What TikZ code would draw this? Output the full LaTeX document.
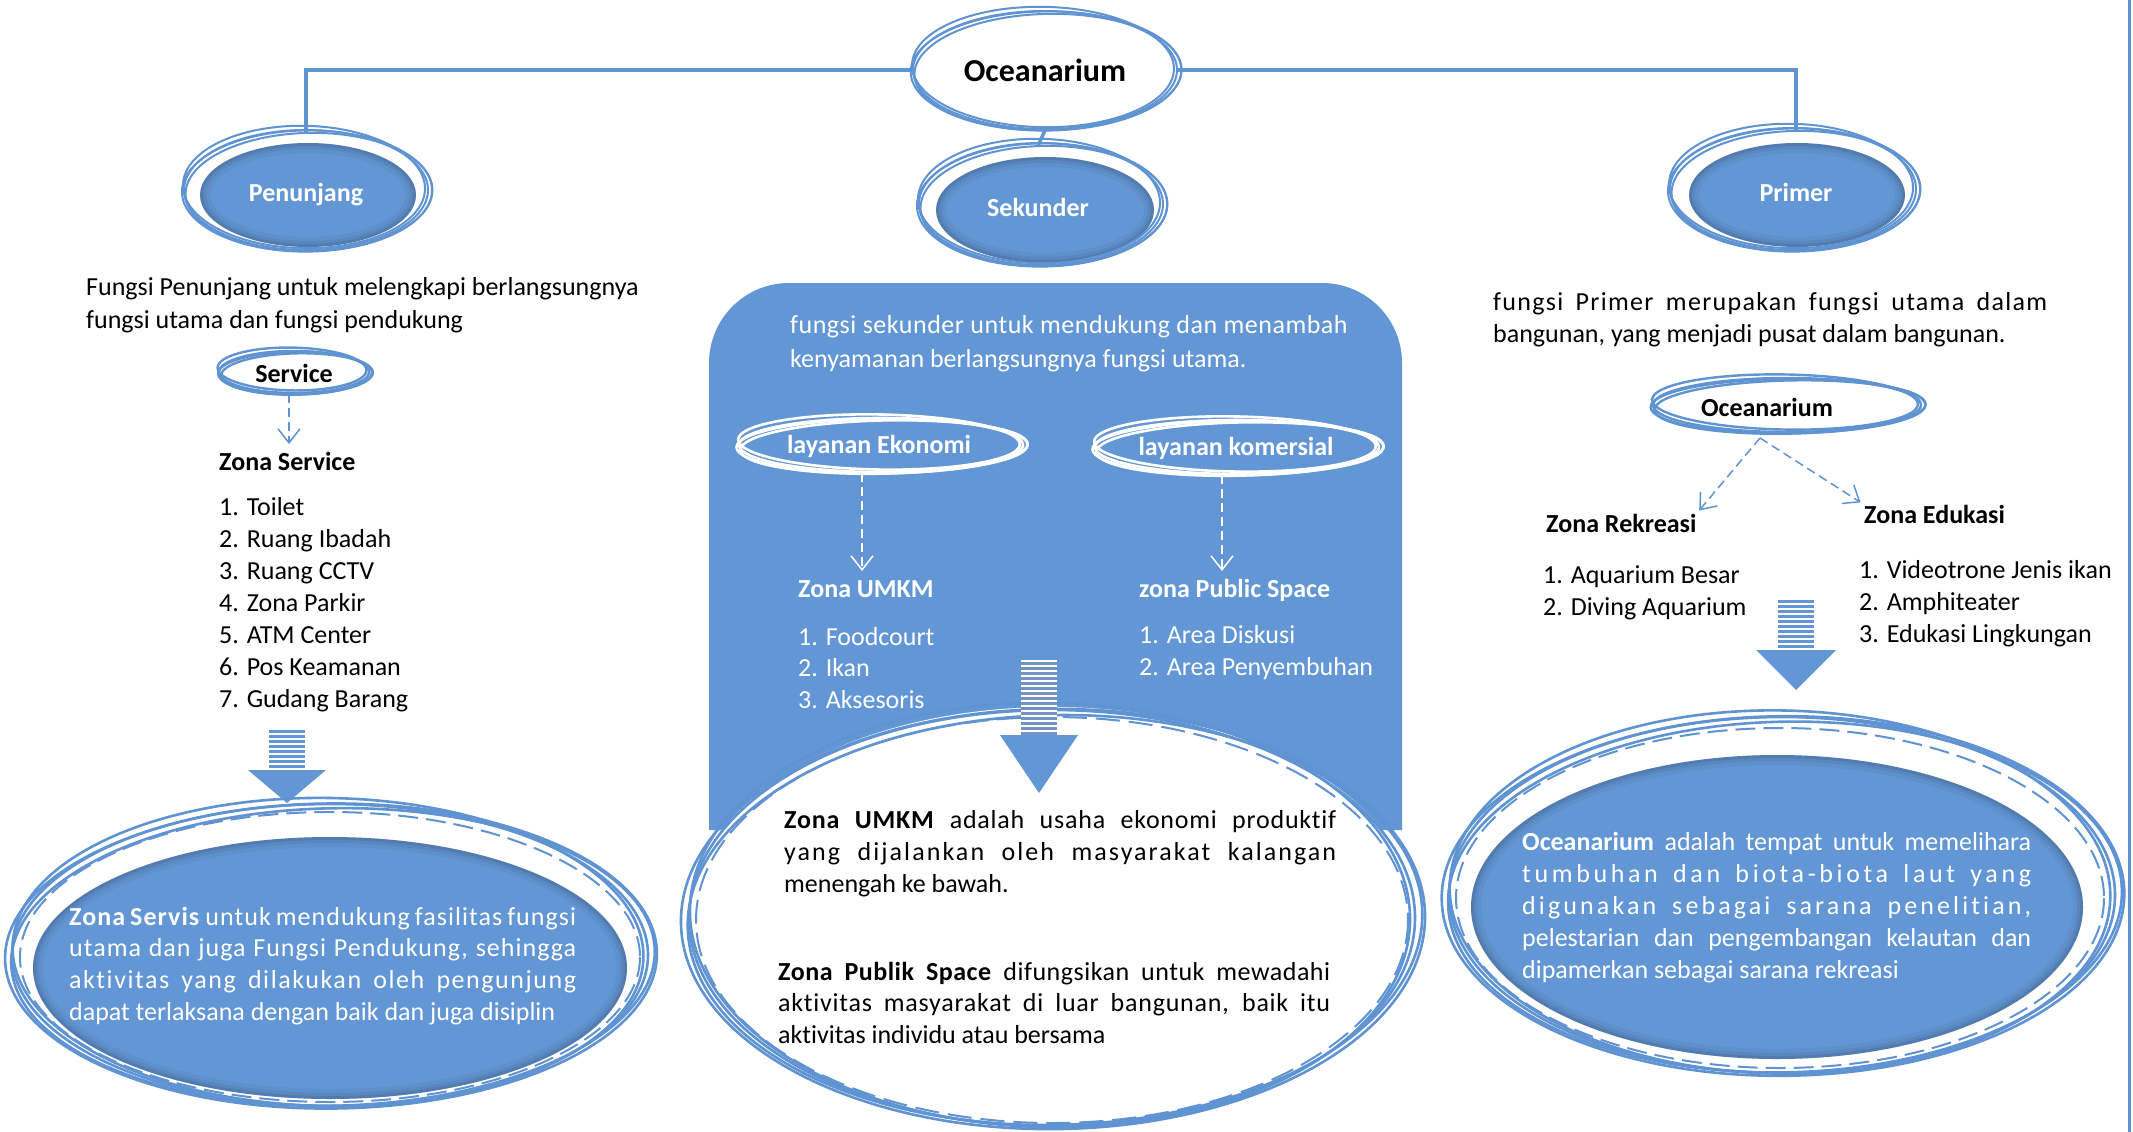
\documentclass[tikz,border=0pt]{standalone}
\usepackage{fontspec}
\setmainfont{Carlito}[Ligatures=CommonOff]
\usetikzlibrary{shapes.geometric,arrows.meta}

\definecolor{oc}{HTML}{6396D4}
\definecolor{ocline}{HTML}{5F93D1}
\definecolor{ocstripe}{HTML}{7393C4}

\newcommand\bodyfont{\fontsize{26}{32}\selectfont}
% stacked lines, first baseline is the box baseline
\newcommand\txtlines[2][32pt]{\vtop{\baselineskip=#1\lineskiplimit=-100pt\lineskip=0pt #2}}
\newcommand\tline[1]{\hbox{#1}}
% a line set to a fixed width, optional letter spacing
\newcommand\jline[3][0]{\hbox to #2{\addfontfeatures{LetterSpace=#1}#3}}

% hand-drawn looking ring: centre, x radius, y radius, style
\newcommand\skring[4]{%
  \foreach \dx/\dy/\sx/\sy/\rr in {0/0/1/1/0, 3/-2/1.012/0.985/1.2, -2/3/0.992/1.02/-1, 1/-1/1.025/1.01/0.5}{%
    \draw[#4, shift={(#1)}, xshift=\dx pt, yshift=\dy pt, rotate=\rr] (0,0) ellipse [x radius=\sx*#2, y radius=\sy*#3];}}

% soft shaded rim inside a filled disc: centre, x radius, y radius
\newcommand\softrim[3]{%
  \foreach \w/\o in {10/0.04, 6/0.06, 3/0.08}{%
    \draw[black, opacity=\o, line width=\w pt] (#1) ellipse [x radius=#2-\w/2, y radius=#3-\w/2];}}

% striped block arrow: x centre, shaft top, shaft end, tip, half shaft, half head, stripe colour
\newcommand\blockarrow[7]{%
  \fill[white] (#1-#5,#2) rectangle (#1+#5,#3);
  \pgfmathsetmacro\nst{int((#3-#2)/5)-1}
  \foreach \i in {0,...,\nst} \fill[#7] (#1-#5,#2+5*\i+1.5) rectangle (#1+#5,#2+5*\i+5);
  \fill[oc] (#1-#6,#3) -- (#1+#6,#3) -- (#1,#4) -- cycle;}

\tikzset{
  txt/.style={inner sep=0pt, font=\bodyfont, anchor=base west},
  btxt/.style={txt, font=\bodyfont\bfseries},
  conn/.style={draw=ocline, line width=3.5pt},
  ring/.style={draw=ocline, line width=2pt},
  wring/.style={draw=white, line width=2.6pt},
  dasharrow/.style={draw=ocline, line width=1.5pt, dash pattern=on 9pt off 5pt,
    -{Straight Barb[length=14pt,width=22pt]}, shorten >=4pt},
  wdasharrow/.style={dasharrow, draw=white},
  bubble/.style={ellipse, inner sep=0pt, font=\bodyfont\bfseries},
}

\begin{document}
\begin{tikzpicture}[x=1pt,y=-1pt]
\useasboundingbox (0,0) rectangle (2133,1132);
\fill[white] (0,0) rectangle (2133,1132);

% right page rule
\draw[ocline, line width=3pt] (2129,0) -- (2129,1132);

% ---------- top level ----------
\node[bubble, minimum width=265pt, minimum height=120pt, font=\fontsize{32}{38}\selectfont\bfseries] (ocean) at (1045,70) {Oceanarium};
\skring{1045,70}{132}{59}{ring}

\fill[oc] (308,195) ellipse [x radius=108, y radius=52];
\softrim{308,195}{108}{52}
\skring{306,190}{122}{60}{ring}
\node[bubble, text=white, minimum width=246pt, minimum height=122pt] (pen) at (306,195) {Penunjang};

\fill[oc] (1045,210) ellipse [x radius=109, y radius=53];
\softrim{1045,210}{109}{53}
\skring{1041,204}{122}{61}{ring}
\node[bubble, text=white, minimum width=244pt, minimum height=122pt] (sek) at (1038,207) {Sekunder};

\fill[oc] (1797,195) ellipse [x radius=108, y radius=52];
\softrim{1797,195}{108}{52}
\skring{1793,189}{123}{61}{ring}
\node[bubble, text=white, minimum width=246pt, minimum height=122pt] (prim) at (1796,192) {Primer};

\draw[conn] (ocean.west) -| (pen.north);
\draw[conn] (ocean.east) -| (prim.north);
\draw[conn] (ocean.south) -- (sek.north);

% ---------- Penunjang column ----------
\node[txt] (pentext) at (86,295) {\txtlines[33pt]{\tline{Fungsi Penunjang untuk melengkapi berlangsungnya}\tline{fungsi utama dan fungsi pendukung}}};

\skring{294,372}{75}{21}{ring, line width=2.4pt}
\node[bubble, minimum width=150pt, minimum height=42pt] (svc) at (294,373) {Service};

\node[btxt] (zsvc) at (219,470) {Zona Service};
\draw[dasharrow] (svc.south -| 289,0) -- (289,448);

\node[txt] (svlist) at (219,515) {\txtlines[32pt]{\tline{1. Toilet}\tline{2. Ruang Ibadah}\tline{3. Ruang CCTV}\tline{4. Zona Parkir}\tline{5. ATM Center}\tline{6. Pos Keamanan}\tline{7. Gudang Barang}}};

\blockarrow{287}{728}{770}{803}{18}{39}{oc}

\fill[oc] (330,968) ellipse [x radius=297, y radius=131];
\softrim{330,968}{297}{131}
\skring{330,955}{318}{151}{ring, line width=2.6pt}
\draw[ocline, line width=2pt, dash pattern=on 20pt off 8pt] (330,957) ellipse [x radius=310, y radius=145];

\node[txt, text=white] (servis) at (69,925) {\txtlines[31.7pt]{%
  \jline[4]{507pt}{\textbf{Zona Servis} untuk mendukung fasilitas fungsi}%
  \jline[4]{507pt}{utama dan juga Fungsi Pendukung, sehingga}%
  \jline[6]{507pt}{aktivitas yang dilakukan oleh pengunjung}%
  \tline{dapat terlaksana dengan baik dan juga disiplin}}};

% ---------- Sekunder column ----------
\fill[oc] (709,830) [rounded corners=80pt] -- (709,283) -- (1402,283) [sharp corners] -- (1402,830) -- cycle;

\node[txt, text=white] (sektext) at (790,333) {\txtlines[34pt]{\tline{\addfontfeatures{LetterSpace=2}fungsi sekunder untuk mendukung dan menambah}\tline{kenyamanan berlangsungnya fungsi utama.}}};

\skring{881,445}{142}{27}{wring}
\node[bubble, text=white, minimum width=284pt, minimum height=54pt] (ek) at (879,446) {layanan Ekonomi};
\skring{1237,447}{142}{27}{wring}
\node[bubble, text=white, minimum width=284pt, minimum height=54pt] (kom) at (1236,448) {layanan komersial};

\node[btxt, text=white] (zumkm) at (798,597) {Zona UMKM};
\node[btxt, text=white] (zps) at (1139,597) {zona Public Space};
\draw[wdasharrow] (ek.south -| 862,0) -- (862,575);
\draw[wdasharrow] (kom.south -| 1222,0) -- (1222,575);

\node[txt, text=white] (umkmlist) at (798,645) {\txtlines[31.5pt]{\tline{1. Foodcourt}\tline{2. Ikan}\tline{3. Aksesoris}}};
\node[txt, text=white] (pslist) at (1139,643) {\txtlines[32pt]{\tline{1. Area Diskusi}\tline{2. Area Penyembuhan}}};

\fill[white] (1052,916) ellipse [x radius=362, y radius=209];
\skring{1052,918}{363}{208}{ring, line width=2.6pt}
\draw[ocline, line width=2pt, dash pattern=on 24pt off 9pt] (1052,920) ellipse [x radius=356, y radius=203];

\blockarrow{1039}{660}{735}{793}{18}{39}{ocstripe}

\node[txt] (umkmtext) at (784,828) {\txtlines[32pt]{%
  \jline[3]{552pt}{\textbf{Zona UMKM} adalah usaha ekonomi produktif}%
  \jline[8]{552pt}{yang dijalankan oleh masyarakat kalangan}%
  \tline{menengah ke bawah.}}};
\node[txt] (pubtext) at (778,980) {\txtlines[31.5pt]{%
  \jline[2]{552pt}{\textbf{Zona Publik Space} difungsikan untuk mewadahi}%
  \jline[3]{552pt}{aktivitas masyarakat di luar bangunan, baik itu}%
  \tline{aktivitas individu atau bersama}}};

% ---------- Primer column ----------
\node[txt] (primtext) at (1493,310) {\txtlines[32pt]{%
  \jline[5]{554pt}{fungsi Primer merupakan fungsi utama dalam}%
  \tline{bangunan, yang menjadi pusat dalam bangunan.}}};

\skring{1787,405}{134}{27}{ring, line width=2.4pt}
\node[bubble, minimum width=268pt, minimum height=54pt] (oc2) at (1767,407) {Oceanarium};

\node[btxt] (zrek) at (1546,532) {Zona Rekreasi};
\node[btxt] (zedu) at (1864,523) {Zona Edukasi};
\draw[dasharrow] (1760,438) -- (zrek.north east);
\draw[dasharrow] (1760,438) -- (zedu.north west);

\node[txt] (reklist) at (1543,583) {\txtlines[32pt]{\tline{1. Aquarium Besar}\tline{2. Diving Aquarium}}};
\node[txt] (edulist) at (1859,578) {\txtlines[32pt]{\tline{1. Videotrone Jenis ikan}\tline{2. Amphiteater}\tline{3. Edukasi Lingkungan}}};

\blockarrow{1796}{598}{650}{690}{18}{40}{oc}

\fill[oc] (1777,907) ellipse [x radius=306, y radius=152];
\softrim{1777,907}{306}{152}
\skring{1782,895}{333}{178}{ring, line width=2.6pt}
\draw[ocline, line width=2pt, dash pattern=on 20pt off 8pt] (1780,898) ellipse [x radius=324, y radius=170];

\node[txt, text=white] (octext) at (1522,850) {\txtlines[32pt]{%
  \jline{509pt}{\textbf{Oceanarium} adalah tempat untuk memelihara}%
  \jline[14]{509pt}{tumbuhan dan biota-biota laut yang}%
  \jline[12]{509pt}{digunakan sebagai sarana penelitian,}%
  \jline{509pt}{pelestarian dan pengembangan kelautan dan}%
  \tline{dipamerkan sebagai sarana rekreasi}}};
\end{tikzpicture}
\end{document}
